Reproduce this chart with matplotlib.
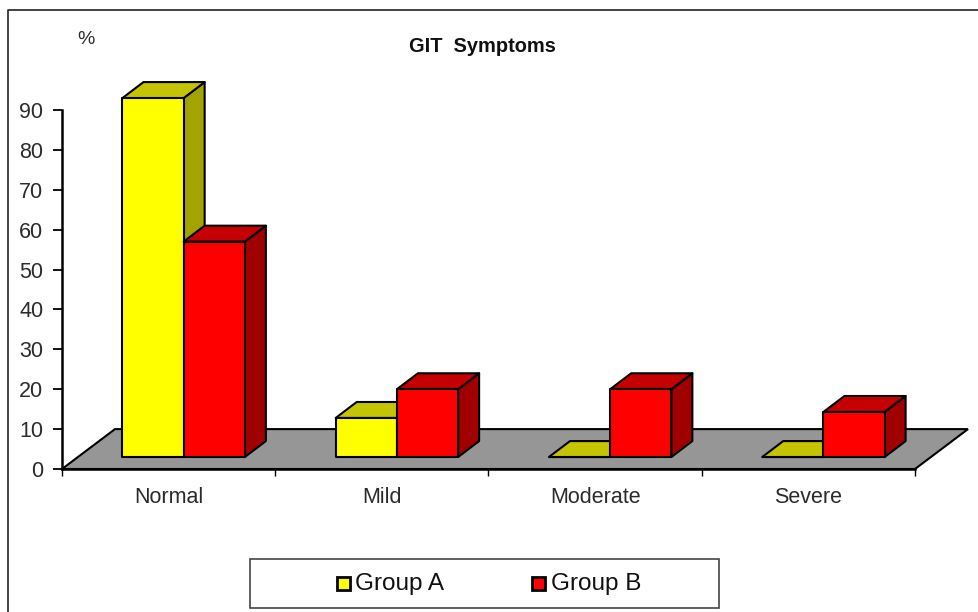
#!/usr/bin/env python3
"""GIT symptoms, fake 3D bar chart in the old spreadsheet style."""

import matplotlib
matplotlib.use("Agg")
import matplotlib.pyplot as plt
from matplotlib.lines import Line2D
from matplotlib.patches import Polygon, Rectangle

categories = ['Normal', 'Mild', 'Moderate', 'Severe']
group_a = [90, 9.8, 0, 0]
group_b = [54, 17, 17, 11.3]
y_ticks = [0, 10, 20, 30, 40, 50, 60, 70, 80, 90]

W, H = 979, 612
TEXT = '#2b2b2b'

# depth of the floor and the bars, in axis units
FLOOR_DX, FLOOR_DY = 0.2485, 10.0
BAR_DX, BAR_DY = 0.0985, 4.0
BASE_DX, BASE_DY = 0.0705, 3.0
BAR_W = 0.287

plt.rcParams['font.family'] = ['Liberation Sans', 'DejaVu Sans']


def fx(px):
    return px / W


def fy(px):
    return 1 - px / H


def draw_bar(ax, x0, value, front, top, side):
    """Draw one bar as three polygons: side, top, front."""
    x1 = x0 + BAR_W
    y0 = BASE_DY
    y1 = BASE_DY + value
    kw = dict(edgecolor='black', linewidth=1.5, joinstyle='round', clip_on=False)
    ax.add_patch(Polygon([(x1, y0), (x1 + BAR_DX, y0 + BAR_DY),
                          (x1 + BAR_DX, y1 + BAR_DY), (x1, y1)],
                         facecolor=side, **kw))
    ax.add_patch(Polygon([(x0, y1), (x0 + BAR_DX, y1 + BAR_DY),
                          (x1 + BAR_DX, y1 + BAR_DY), (x1, y1)],
                         facecolor=top, **kw))
    ax.add_patch(Rectangle((x0, y0), BAR_W, value, facecolor=front, **kw))


fig = plt.figure(figsize=(W / 100, H / 100), dpi=100, facecolor='white')
ax = fig.add_axes([fx(62), fy(469), fx(915) - fx(62), fy(110) - fy(469)])
ax.set_xlim(0, len(categories))
ax.set_ylim(0, 90)
ax.patch.set_visible(False)

for side in ['top', 'right']:
    ax.spines[side].set_visible(False)
for side in ['left', 'bottom']:
    ax.spines[side].set_linewidth(1.8)
    ax.spines[side].set_zorder(5)

# floor
n = len(categories)
ax.add_patch(Polygon([(0, 0), (FLOOR_DX, FLOOR_DY), (n + FLOOR_DX, FLOOR_DY), (n, 0)],
                     facecolor='#969696', edgecolor='black', linewidth=1.5,
                     clip_on=False))

for i in range(n):
    left = i + BASE_DX + 0.5 - BAR_W
    draw_bar(ax, left, group_a[i], '#ffff00', '#c4c400', '#a3a300')
    draw_bar(ax, left + BAR_W, group_b[i], '#ff0000', '#c40000', '#a00000')

ax.set_yticks(y_ticks)
ax.tick_params(axis='y', length=6.5, width=1.3, pad=7, labelsize=15.5, labelcolor=TEXT)
ax.set_xticks(range(n + 1))
ax.set_xticklabels([])
ax.tick_params(axis='x', which='major', length=5, width=1.0)
ax.set_xticks([i + 0.5 for i in range(n)], minor=True)
ax.set_xticklabels(categories, minor=True)
ax.tick_params(axis='x', which='minor', length=0, pad=13, labelsize=15.5, labelcolor=TEXT)

fig.text(fx(482), fy(46), 'GIT  Symptoms', ha='center', va='center',
         fontsize=14.4, fontweight='bold', color='#111111')
fig.text(fx(86), fy(40), '%', ha='center', va='center', fontsize=14, color=TEXT)

# chart border, only left and top are inside the crop
fig.add_artist(Line2D([fx(8), fx(8), 1], [0, fy(10), fy(10)], color='#222222', linewidth=1.2))

# legend box
fig.add_artist(Rectangle((fx(250), fy(608)), fx(719) - fx(250), fy(559) - fy(608),
                         transform=fig.transFigure, facecolor='white',
                         edgecolor='#444444', linewidth=1.2))
for sq_x, txt_x, color, label in [(337, 355, '#ffff00', 'Group A'),
                                  (532, 551, '#ff0000', 'Group B')]:
    fig.add_artist(Rectangle((fx(sq_x), fy(590)), 13 / W, 13 / H,
                             transform=fig.transFigure, facecolor=color,
                             edgecolor='black', linewidth=2))
    fig.text(fx(txt_x), fy(584), label, ha='left', va='center', fontsize=17.5, color='#111111')

fig.savefig('out.png', dpi=100, facecolor='white')
